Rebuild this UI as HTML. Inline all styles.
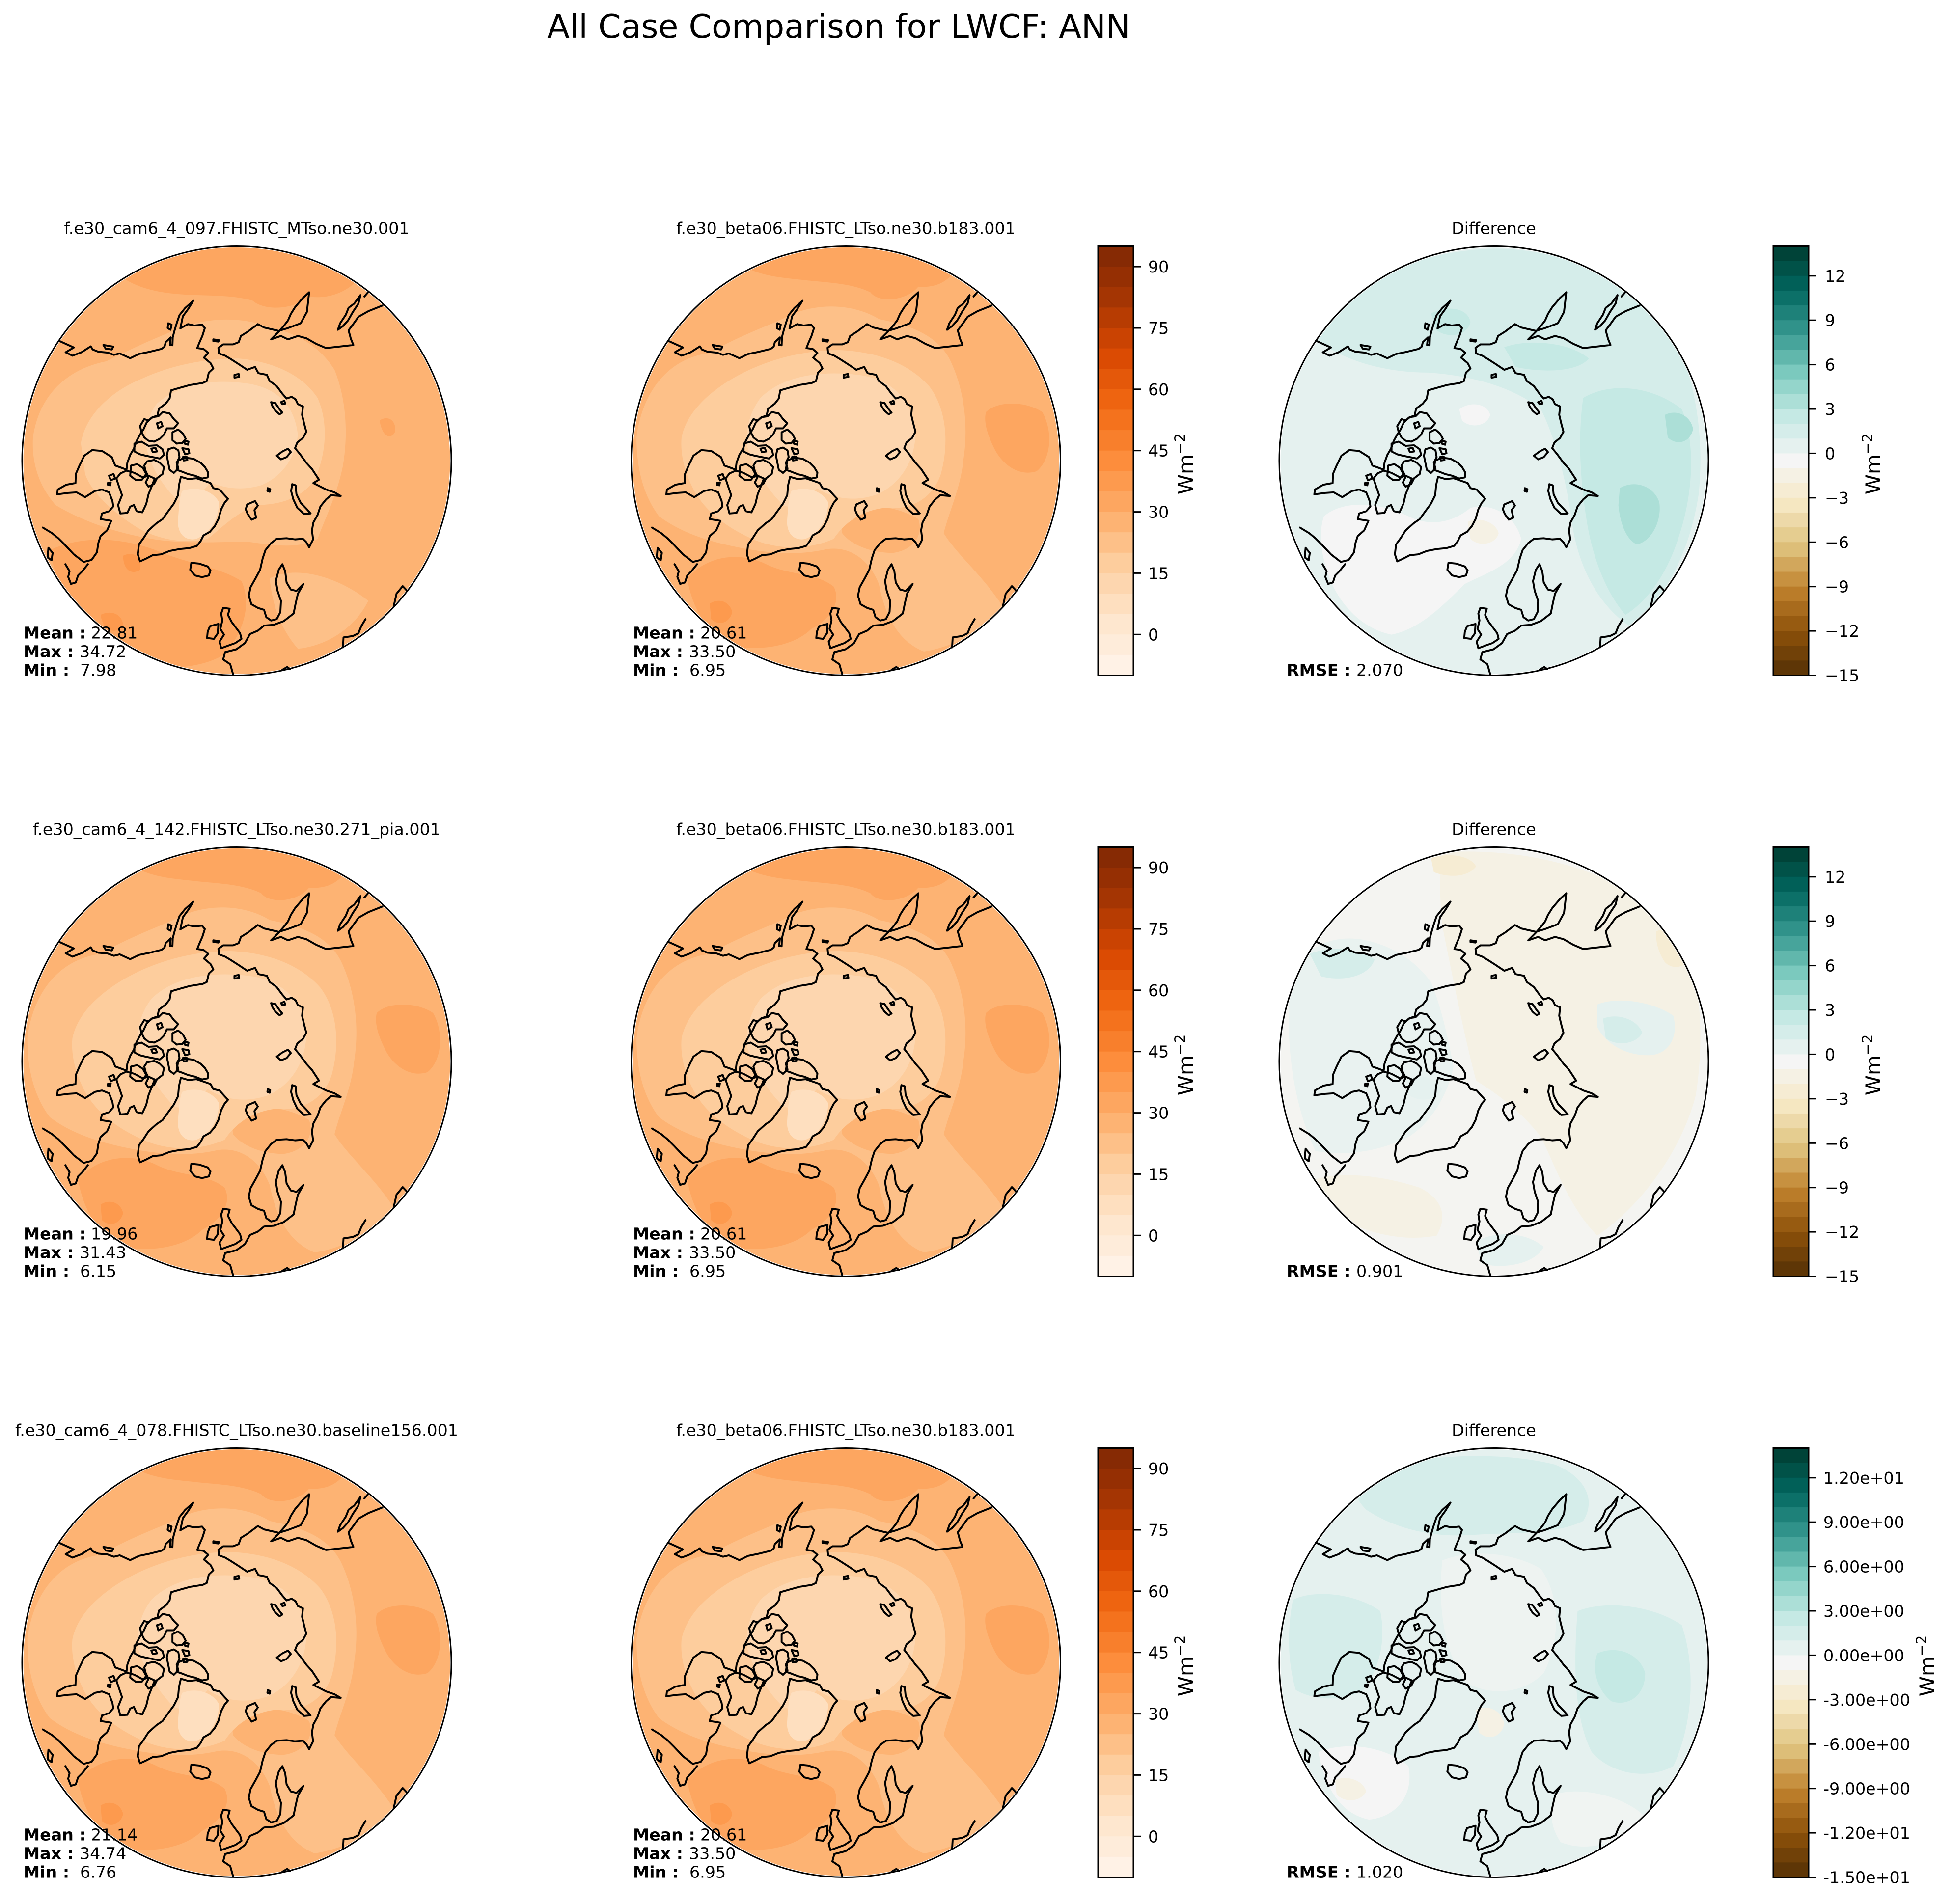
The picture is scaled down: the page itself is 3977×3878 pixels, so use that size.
<!DOCTYPE html>
<html>
<head>
<meta charset="utf-8">
<style>
html,body{margin:0;padding:0;background:#fff;}
svg{display:block;}
text{font-family:"DejaVu Sans","Liberation Sans",sans-serif;fill:#000;}
</style>
</head>
<body>
<svg xmlns="http://www.w3.org/2000/svg" width="3977" height="3878" viewBox="0 0 3977 3878">
<rect x="0" y="0" width="3977" height="3878" fill="#ffffff"/>
<defs>
  <clipPath id="cc" clipPathUnits="userSpaceOnUse"><circle cx="783" cy="783" r="757"/></clipPath>

  <g id="coast" fill="none" stroke="#000" stroke-width="6.8" stroke-linejoin="round" stroke-linecap="round">
    <path d="M152,357 L205,381 L176,398 L200,410 L232,398 L265,377 L272,388 L292,396 L325,399 L347,407 L368,402 L405,419 L436,404 L475,396 L516,386 L527,378 L531,362 L549,345 L546,372 L555,373 L556,345 L562,322 L571,292 L580,266 L600,241 L629,215 L611,244 L592,270 L583,313 L610,298 L633,303 L660,300 L670,312 L661,340 L650,365 L643,383 L665,386 L682,400 L667,417 L690,436 L700,455 L684,470 L677,500 L662,507 L617,514 L581,524 L550,533 L545,562 L531,580 L507,598 L502,622 L481,630 L463,648 L452,672 L440,690 L428,712 L418,740 L405,762 L395,790 L392,815 L380,810 L352,800 L340,770 L305,748 L270,745 L242,765 L225,800 L212,830 L211,862 L178,868 L148,885 L146,902 L185,897 L215,895 L245,912 L280,890 L305,885 L330,895 L342,925 L345,945 L330,962 L305,970 L300,990 L338,996 L323,1030 L300,1050 L292,1075 L287,1108 L268,1135 L240,1142 L205,1115 L172,1080 L150,1058 L128,1040 L95,1020"/>
    <path d="M310,372 L345,378 L340,388 L318,385 Z"/>
    <path d="M540,295 L552,300 L548,318 L538,312 Z"/>
    <path d="M700,352 L720,355 L718,360 L700,358 Z"/>
    <path d="M775,478 L790,475 L792,485 L775,488 Z"/>
    <path d="M905,575 L920,578 L935,600 L945,612 L935,618 L920,605 L910,590 Z"/>
    <path d="M940,575 L952,570 L955,580 L945,582 Z"/>
    <path d="M925,765 L945,750 L965,740 L975,752 L960,770 L940,778 Z"/>
    <path d="M1142,318 L1150,295 L1170,265 L1180,240 L1200,225 L1222,195 L1215,225 L1195,255 L1178,285 L1160,305 Z"/>
    <path d="M1248,186 L1236,200"/>
    <path d="M1300,232 L1250,252 L1215,272 L1195,300 L1180,320 L1188,350 L1197,372 L1145,378 L1100,383 L1065,368 L1030,348 L1000,340 L965,352 L940,340 L905,352 L932,325 L952,302 L965,285 L975,262 L990,238 L1018,205 L1040,185 L1032,255 L1010,295 L965,312 L932,322 L880,310 L858,298 L822,325 L798,340 L790,362 L770,370 L735,370 L718,382 L720,402 L742,410 L762,422 L790,440 L820,460 L848,450 L860,472 L890,478 L900,500 L925,518 L945,545 L960,562 L978,556 L992,565 L1000,582 L1018,590 L1015,620 L1022,650 L1030,680 L1018,702 L998,718 L990,738 L1008,760 L1030,790 L1050,812 L1065,835 L1075,850 L1055,862 L1075,872 L1100,885 L1130,895 L1152,908 L1118,905 L1100,920 L1080,945 L1070,975 L1055,1002 L1050,1030 L1054,1062 L1040,1090 L1030,1072 L1018,1060 L990,1062 L960,1058 L925,1060 L905,1075 L885,1100 L875,1130 L866,1170 L850,1200 L832,1232 L826,1262 L835,1292 L858,1305 L880,1312 L888,1338 L905,1350 L925,1345 L938,1320 L940,1280 L928,1245 L922,1210 L932,1170 L945,1150 L955,1175 L960,1215 L975,1240 L995,1245 L1020,1220 L1000,1255 L992,1290 L985,1325 L950,1352 L915,1365 L880,1368 L858,1386 L830,1398 L812,1430 L782,1452 L742,1462 L735,1488 L760,1505 L770,1540"/>
    <path d="M455,635 L470,640 L485,628 L505,625 L520,610 L545,615 L560,635 L575,650 L560,668 L535,668 L525,690 L510,705 L490,715 L470,712 L455,700 L445,680 L440,660 Z"/>
    <path d="M500,650 L515,645 L520,660 L505,668 Z"/>
    <path d="M555,682 L575,672 L592,686 L602,705 L590,720 L570,722 L555,710 Z"/>
    <path d="M598,712 L612,715 L610,726 L598,722 Z"/>
    <path d="M420,722 L445,715 L470,730 L500,728 L520,742 L525,762 L510,775 L485,770 L460,765 L440,760 L420,750 Z"/>
    <path d="M480,740 L495,737 L500,750 L485,752 Z"/>
    <path d="M540,742 L560,736 L576,746 L580,770 L570,790 L576,810 L560,826 L545,815 L540,790 L535,765 Z"/>
    <path d="M590,738 L612,742 L615,756 L600,760 Z"/>
    <path d="M592,770 L605,768 L608,780 L595,782 Z"/>
    <path d="M465,785 L490,780 L510,790 L525,805 L520,830 L500,845 L490,865 L470,875 L460,860 L470,840 L460,820 L455,800 Z"/>
    <path d="M575,782 L600,772 L630,776 L655,790 L670,805 L682,825 L680,842 L660,846 L635,836 L610,830 L590,822 L570,815 Z"/>
    <path d="M408,800 L430,795 L450,808 L462,830 L447,850 L426,852 L405,836 Z"/>
    <path d="M392,818 L420,826 L450,842 L470,836 L492,846 L482,872 L470,902 L462,936 L448,966 L428,962 L418,940 L405,946 L395,968 L370,970 L362,940 L376,905 L366,876 L356,846 L370,828 Z"/>
    <path d="M330,836 L346,830 L352,846 L336,852 Z"/>
    <path d="M326,862 L336,860 L334,870 L326,868 Z"/>
    <path d="M585,840 L612,848 L640,845 L670,855 L690,862 L700,880 L722,885 L740,905 L752,918 L740,932 L728,955 L718,990 L705,1015 L688,1035 L665,1048 L655,1068 L642,1085 L615,1093 L582,1096 L545,1103 L515,1115 L485,1118 L462,1130 L440,1140 L432,1115 L436,1080 L452,1058 L470,1030 L498,1005 L520,990 L540,962 L560,935 L575,905 L578,870 Z"/>
    <path d="M622,1145 L650,1148 L680,1158 L690,1172 L684,1190 L660,1196 L635,1190 L618,1170 Z"/>
    <path d="M820,938 L848,926 L858,942 L846,958 L852,985 L836,992 L822,972 L815,955 Z"/>
    <path d="M893,880 L902,884 L900,893 L892,890 Z"/>
    <path d="M980,866 L992,870 L995,902 L1010,932 L1032,955 L1045,970 L1022,972 L998,950 L984,920 L976,890 Z"/>
    <path d="M735,1305 L758,1308 L752,1330 L765,1355 L780,1375 L795,1395 L800,1415 L778,1430 L750,1440 L728,1448 L722,1425 L738,1400 L725,1380 L732,1350 L728,1325 Z"/>
    <path d="M688,1370 L718,1362 L716,1395 L702,1415 L678,1412 L680,1390 Z"/>
    <path d="M115,1092 L130,1110 L126,1136 L112,1126 Z"/>
    <path d="M175,1150 L190,1175 L185,1195 L195,1220 L212,1215 L220,1190 L235,1175 L255,1150"/>
    <path d="M1340,1300 L1350,1255 L1372,1228 L1388,1245"/>
    <path d="M1160,1445 L1162,1410 L1195,1405 L1215,1395 L1225,1370 L1240,1345"/>
    <path d="M945,1525 L962,1515 L972,1522"/>
  </g>

  <g id="fB">
    <circle cx="783" cy="783" r="770" fill="#fdb373"/>
    <path fill="#fda660" d="M380,60 C600,0 1000,10 1180,90 C1150,150 1100,170 1040,165 C1000,215 900,225 870,185 C800,150 700,150 620,140 C520,130 440,120 380,60 Z"/>
    <path fill="#fda660" d="M1280,610 C1320,570 1420,570 1480,610 C1520,680 1510,780 1460,820 C1400,840 1340,800 1310,740 C1290,700 1270,650 1280,610 Z"/>
    <path fill="#fda660" d="M220,1200 C300,1110 420,1110 500,1150 C580,1190 680,1180 740,1230 C770,1290 720,1350 660,1380 C600,1440 480,1460 380,1440 C300,1400 240,1320 220,1200 Z"/>
    <path fill="#fd9a4e" d="M300,1290 C330,1270 370,1280 380,1320 C370,1360 330,1370 305,1345 Z"/>
    <path fill="#fdc088" d="M40,700 C60,540 150,420 300,400 C400,340 520,300 600,260 C700,220 820,230 900,280 C1000,300 1100,330 1150,420 C1200,520 1220,650 1200,780 C1190,880 1150,960 1130,1040 C1180,1120 1260,1180 1340,1300 C1280,1380 1180,1440 1060,1460 C960,1420 920,1320 900,1220 C860,1120 780,1080 700,1100 C600,1120 500,1110 400,1090 C300,1070 200,1040 120,980 C60,900 40,800 40,700 Z"/>
    <path fill="#fdb373" d="M760,960 C840,930 960,940 1040,990 C1060,1050 1020,1100 950,1110 C870,1110 800,1080 770,1040 Z"/>
    <path fill="#fdcd9d" d="M200,700 C220,600 320,520 420,470 C520,420 640,390 760,390 C880,395 1000,430 1080,520 C1140,600 1150,720 1120,830 C1090,920 1010,960 920,950 C840,960 780,1000 740,1060 C650,1100 540,1100 450,1060 C360,1020 280,960 240,880 C210,820 195,760 200,700 Z"/>
    <path fill="#fdd6af" d="M480,560 C560,480 700,460 840,480 C960,500 1020,580 1030,680 C1030,780 980,860 900,900 C820,930 740,920 680,880 C640,930 600,960 560,940 C500,880 450,800 430,720 C430,650 450,600 480,560 Z"/>
    <path fill="#fedfbf" d="M590,890 C640,870 700,890 720,930 C720,990 690,1040 640,1060 C600,1070 570,1040 575,990 C578,950 580,910 590,890 Z"/>
  </g>

  <g id="fA">
    <circle cx="783" cy="783" r="770" fill="#fdb373"/>
    <path fill="#fda660" d="M330,90 C550,0 1000,0 1230,120 C1180,190 1100,210 1040,200 C980,250 880,250 840,215 C760,190 650,200 560,190 C460,180 380,150 330,90 Z"/>
    <path fill="#fda660" d="M120,1100 C250,1040 400,1060 520,1110 C620,1150 720,1160 800,1210 C840,1300 800,1400 740,1470 C640,1530 480,1530 360,1480 C250,1420 160,1300 120,1100 Z"/>
    <path fill="#fda660" d="M1290,640 C1320,620 1350,640 1345,680 C1330,710 1300,700 1290,640 Z"/>
    <path fill="#fd9a4e" d="M380,1120 C420,1100 450,1130 440,1170 C410,1190 380,1170 380,1120 Z"/>
    <path fill="#fd9a4e" d="M300,1330 C340,1310 380,1330 380,1370 C350,1400 310,1390 300,1330 Z"/>
    <path fill="#fdc088" d="M60,700 C80,560 170,460 320,430 C420,380 530,330 620,300 C720,270 830,280 900,310 C1000,330 1080,380 1130,460 C1170,560 1180,680 1160,800 C1140,900 1100,980 1070,1060 C1000,1100 900,1080 820,1070 C720,1070 600,1080 480,1060 C360,1040 240,1000 140,940 C80,870 55,790 60,700 Z"/>
    <path fill="#fdc088" d="M900,1200 C1000,1150 1150,1200 1250,1280 C1200,1380 1100,1440 1000,1450 C940,1380 910,1300 900,1200 Z"/>
    <path fill="#fdcd9d" d="M230,720 C250,610 350,530 450,490 C560,440 680,420 790,420 C900,430 1010,470 1070,560 C1110,650 1100,760 1060,850 C1010,920 930,940 850,940 C780,970 730,1020 680,1060 C590,1080 500,1060 430,1020 C350,970 270,900 245,830 Z"/>
    <path fill="#fdd6af" d="M500,580 C580,510 700,490 830,510 C940,530 990,600 1000,690 C990,780 940,840 870,870 C800,890 740,880 690,860 C650,910 600,940 570,920 C510,860 470,790 460,720 C460,660 475,610 500,580 Z"/>
    <path fill="#fedfbf" d="M590,890 C640,870 700,890 720,930 C720,990 690,1040 640,1060 C600,1070 570,1040 575,990 C578,950 580,910 590,890 Z"/>
  </g>

  <g id="d1">
    <circle cx="783" cy="783" r="770" fill="#e5f1ef"/>
    <path fill="#d5edea" d="M150,350 C250,150 500,40 780,30 C1050,30 1300,150 1420,330 C1500,500 1530,700 1510,900 C1480,1100 1400,1250 1280,1380 C1150,1300 1080,1150 1060,1000 C1040,850 1000,700 950,600 C850,520 700,480 550,470 C400,470 250,430 150,350 Z"/>
    <path fill="#c5e9e4" d="M1100,560 C1200,500 1350,520 1450,600 C1500,720 1490,900 1440,1050 C1400,1180 1330,1280 1250,1330 C1180,1250 1130,1120 1110,980 C1090,850 1080,700 1100,560 Z"/>
    <path fill="#acdfd7" d="M1230,880 C1280,850 1350,870 1370,930 C1380,1000 1340,1070 1290,1080 C1250,1060 1230,1000 1225,940 Z"/>
    <path fill="#acdfd7" d="M1390,620 C1430,600 1480,620 1490,670 C1480,720 1430,730 1400,700 Z"/>
    <path fill="#c5e9e4" d="M560,260 C620,230 690,240 700,290 C690,340 620,350 580,320 Z"/>
    <path fill="#c5e9e4" d="M820,380 C900,350 1050,360 1120,420 C1080,470 950,470 860,450 Z"/>
    <path fill="#f5f5f5" d="M180,980 C250,920 380,930 480,980 C560,1020 640,1000 700,950 C780,930 860,980 880,1060 C860,1150 760,1180 680,1220 C600,1300 520,1380 420,1400 C320,1380 240,1300 200,1200 C170,1120 160,1040 180,980 Z"/>
    <path fill="#f5f1e4" d="M690,1000 C730,980 790,1000 800,1040 C790,1080 730,1090 700,1060 Z"/>
    <path fill="#f5f5f5" d="M660,600 C700,570 760,580 770,620 C760,660 700,670 670,640 Z"/>
  </g>
  <g id="d2">
    <circle cx="783" cy="783" r="770" fill="#f4f4f1"/>
    <path fill="#f5f1e4" d="M600,40 C900,20 1250,100 1450,330 C1520,500 1530,700 1500,900 C1450,1100 1300,1300 1150,1400 C1050,1300 1000,1150 950,1050 C880,960 800,900 720,850 C680,700 640,500 600,300 C590,200 590,100 600,40 Z"/>
    <path fill="#f6ecd3" d="M1360,320 C1400,300 1460,330 1480,400 C1470,450 1420,460 1390,430 C1370,400 1355,360 1360,320 Z"/>
    <path fill="#f6ecd3" d="M560,60 C620,40 700,50 720,90 C690,130 620,130 570,110 Z"/>
    <path fill="#e9f2f0" d="M60,500 C100,380 200,330 320,350 C420,370 500,420 560,500 C600,600 620,700 640,800 C620,900 560,1000 480,1050 C380,1100 260,1120 150,1100 C80,950 40,750 60,500 Z"/>
    <path fill="#d5edea" d="M130,400 C200,370 300,380 360,420 C340,480 250,500 170,480 Z"/>
    <path fill="#e5f1ef" d="M1150,580 C1220,550 1350,570 1420,620 C1440,700 1400,760 1330,760 C1250,760 1180,720 1150,660 Z"/>
    <path fill="#d5edea" d="M1170,630 C1220,610 1290,630 1310,680 C1290,720 1220,730 1180,700 Z"/>
    <path fill="#f5f1e4" d="M150,1200 C250,1170 400,1190 520,1230 C600,1270 620,1330 580,1400 C480,1420 360,1400 260,1350 C200,1310 160,1260 150,1200 Z"/>
    <path fill="#e5f1ef" d="M720,1420 C800,1380 900,1390 960,1440 C930,1500 820,1520 740,1500 Z"/>
    <path fill="#e5f1ef" d="M470,850 C520,820 580,840 600,880 C580,920 520,930 480,900 Z"/>
  </g>
  <g id="d3">
    <circle cx="783" cy="783" r="770" fill="#e5f1ef"/>
    <path fill="#d5edea" d="M300,120 C500,40 800,30 1000,80 C1100,120 1150,200 1100,280 C1000,330 850,320 700,330 C550,340 420,300 330,240 C290,200 280,160 300,120 Z"/>
    <path fill="#d5edea" d="M1080,600 C1180,560 1350,580 1450,650 C1500,800 1490,1000 1420,1150 C1330,1200 1200,1180 1130,1100 C1080,1000 1060,850 1080,600 Z"/>
    <path fill="#c5e9e4" d="M1150,750 C1220,720 1300,750 1320,820 C1320,900 1260,940 1200,920 C1150,880 1130,810 1150,750 Z"/>
    <path fill="#d5edea" d="M70,560 C150,520 300,540 380,600 C400,700 380,800 320,880 C250,920 150,920 80,880 C50,780 50,660 70,560 Z"/>
    <path fill="#eef3f1" d="M600,420 C700,380 850,390 950,450 C1020,550 1020,700 960,820 C880,900 760,900 680,850 C620,760 580,620 600,420 Z"/>
    <path fill="#f5f5f5" d="M160,1100 C260,1060 400,1080 480,1150 C500,1250 440,1330 340,1340 C250,1320 190,1250 160,1100 Z"/>
    <path fill="#f5f1e4" d="M720,950 C760,930 810,950 820,1000 C810,1050 760,1060 730,1030 Z"/>
    <path fill="#f5f1e4" d="M220,1200 C260,1180 320,1200 330,1240 C310,1280 250,1280 225,1250 Z"/>
    <path fill="#f0f4f2" d="M1000,1250 C1100,1220 1250,1260 1320,1330 C1250,1420 1120,1460 1020,1420 C980,1360 980,1300 1000,1250 Z"/>
  </g>

  <g id="cbO">
    <rect x="0" y="0" width="72" height="42.2" fill="#862a04"/>
    <rect x="0" y="41.62" width="72" height="42.2" fill="#952f03"/>
    <rect x="0" y="83.24" width="72" height="42.2" fill="#a43503"/>
    <rect x="0" y="124.86" width="72" height="42.2" fill="#b73c02"/>
    <rect x="0" y="166.48" width="72" height="42.2" fill="#ca4302"/>
    <rect x="0" y="208.10" width="72" height="42.2" fill="#db4b03"/>
    <rect x="0" y="249.71" width="72" height="42.2" fill="#e4580a"/>
    <rect x="0" y="291.33" width="72" height="42.2" fill="#ee6410"/>
    <rect x="0" y="332.95" width="72" height="42.2" fill="#f4721d"/>
    <rect x="0" y="374.57" width="72" height="42.2" fill="#f87f2c"/>
    <rect x="0" y="416.19" width="72" height="42.2" fill="#fd8d3c"/>
    <rect x="0" y="457.81" width="72" height="42.2" fill="#fd9a4e"/>
    <rect x="0" y="499.43" width="72" height="42.2" fill="#fda660"/>
    <rect x="0" y="541.05" width="72" height="42.2" fill="#fdb373"/>
    <rect x="0" y="582.67" width="72" height="42.2" fill="#fdc088"/>
    <rect x="0" y="624.29" width="72" height="42.2" fill="#fdcd9d"/>
    <rect x="0" y="665.90" width="72" height="42.2" fill="#fdd6af"/>
    <rect x="0" y="707.52" width="72" height="42.2" fill="#fedfbf"/>
    <rect x="0" y="749.14" width="72" height="42.2" fill="#fee7cf"/>
    <rect x="0" y="790.76" width="72" height="42.2" fill="#feecda"/>
    <rect x="0" y="832.38" width="72" height="41.62" fill="#fff2e6"/>
    <rect x="0" y="0" width="72" height="874" fill="none" stroke="#000" stroke-width="3"/>
  </g>
  <g id="cbD">
    <rect x="0" y="0" width="72" height="30.6" fill="#004338"/>
    <rect x="0" y="30.14" width="72" height="30.6" fill="#015248"/>
    <rect x="0" y="60.28" width="72" height="30.6" fill="#016058"/>
    <rect x="0" y="90.41" width="72" height="30.6" fill="#0c7068"/>
    <rect x="0" y="120.55" width="72" height="30.6" fill="#1e8179"/>
    <rect x="0" y="150.69" width="72" height="30.6" fill="#30928a"/>
    <rect x="0" y="180.83" width="72" height="30.6" fill="#47a49b"/>
    <rect x="0" y="210.97" width="72" height="30.6" fill="#61b7ac"/>
    <rect x="0" y="241.10" width="72" height="30.6" fill="#7bc9be"/>
    <rect x="0" y="271.24" width="72" height="30.6" fill="#94d5cb"/>
    <rect x="0" y="301.38" width="72" height="30.6" fill="#acdfd7"/>
    <rect x="0" y="331.52" width="72" height="30.6" fill="#c5e9e4"/>
    <rect x="0" y="361.66" width="72" height="30.6" fill="#d5edea"/>
    <rect x="0" y="391.79" width="72" height="30.6" fill="#e5f1ef"/>
    <rect x="0" y="421.93" width="72" height="30.6" fill="#f5f5f5"/>
    <rect x="0" y="452.07" width="72" height="30.6" fill="#f5f1e4"/>
    <rect x="0" y="482.21" width="72" height="30.6" fill="#f6ecd3"/>
    <rect x="0" y="512.34" width="72" height="30.6" fill="#f5e7c1"/>
    <rect x="0" y="542.48" width="72" height="30.6" fill="#edd9a9"/>
    <rect x="0" y="572.62" width="72" height="30.6" fill="#e5cd90"/>
    <rect x="0" y="602.76" width="72" height="30.6" fill="#ddbe78"/>
    <rect x="0" y="632.90" width="72" height="30.6" fill="#d2a75c"/>
    <rect x="0" y="663.03" width="72" height="30.6" fill="#c79140"/>
    <rect x="0" y="693.17" width="72" height="30.6" fill="#ba7c29"/>
    <rect x="0" y="723.31" width="72" height="30.6" fill="#a86b1d"/>
    <rect x="0" y="753.45" width="72" height="30.6" fill="#975b11"/>
    <rect x="0" y="783.59" width="72" height="30.6" fill="#844c09"/>
    <rect x="0" y="813.72" width="72" height="30.6" fill="#714108"/>
    <rect x="0" y="843.86" width="72" height="30.14" fill="#5e3606"/>
    <rect x="0" y="0" width="72" height="874" fill="none" stroke="#000" stroke-width="3"/>
  </g>
  <g id="ticksO" stroke="#000" stroke-width="3">
    <line x1="72" y1="41.6" x2="88" y2="41.6"/>
    <line x1="72" y1="166.5" x2="88" y2="166.5"/>
    <line x1="72" y1="291.3" x2="88" y2="291.3"/>
    <line x1="72" y1="416.2" x2="88" y2="416.2"/>
    <line x1="72" y1="541.1" x2="88" y2="541.1"/>
    <line x1="72" y1="665.9" x2="88" y2="665.9"/>
    <line x1="72" y1="790.8" x2="88" y2="790.8"/>
  </g>
  <g id="ticksD" stroke="#000" stroke-width="3">
    <line x1="72" y1="60.3" x2="88" y2="60.3"/>
    <line x1="72" y1="150.7" x2="88" y2="150.7"/>
    <line x1="72" y1="241.1" x2="88" y2="241.1"/>
    <line x1="72" y1="331.5" x2="88" y2="331.5"/>
    <line x1="72" y1="421.9" x2="88" y2="421.9"/>
    <line x1="72" y1="512.3" x2="88" y2="512.3"/>
    <line x1="72" y1="602.8" x2="88" y2="602.8"/>
    <line x1="72" y1="693.2" x2="88" y2="693.2"/>
    <line x1="72" y1="783.6" x2="88" y2="783.6"/>
    <line x1="72" y1="874" x2="88" y2="874"/>
  </g>
</defs>

<text x="1708" y="77" font-size="66.7" text-anchor="middle">All Case Comparison for LWCF: ANN</text>

<g transform="translate(32.64,489.14) scale(0.5739)">
  <g clip-path="url(#cc)"><use href="#fA"/></g>
  <use href="#coast"/>
  <circle cx="783" cy="783" r="761.5" fill="none" stroke="#000" stroke-width="5.2"/>
</g>
<g transform="translate(1273.14,489.14) scale(0.5739)">
  <g clip-path="url(#cc)"><use href="#fB"/></g>
  <use href="#coast"/>
  <circle cx="783" cy="783" r="761.5" fill="none" stroke="#000" stroke-width="5.2"/>
</g>
<g transform="translate(2592.64,489.14) scale(0.5739)">
  <g clip-path="url(#cc)"><use href="#d1"/></g>
  <use href="#coast"/>
  <circle cx="783" cy="783" r="761.5" fill="none" stroke="#000" stroke-width="5.2"/>
</g>
<g transform="translate(32.64,1713.14) scale(0.5739)">
  <g clip-path="url(#cc)"><use href="#fB"/></g>
  <use href="#coast"/>
  <circle cx="783" cy="783" r="761.5" fill="none" stroke="#000" stroke-width="5.2"/>
</g>
<g transform="translate(1273.14,1713.14) scale(0.5739)">
  <g clip-path="url(#cc)"><use href="#fB"/></g>
  <use href="#coast"/>
  <circle cx="783" cy="783" r="761.5" fill="none" stroke="#000" stroke-width="5.2"/>
</g>
<g transform="translate(2592.64,1713.14) scale(0.5739)">
  <g clip-path="url(#cc)"><use href="#d2"/></g>
  <use href="#coast"/>
  <circle cx="783" cy="783" r="761.5" fill="none" stroke="#000" stroke-width="5.2"/>
</g>
<g transform="translate(32.64,2937.14) scale(0.5739)">
  <g clip-path="url(#cc)"><use href="#fB"/></g>
  <use href="#coast"/>
  <circle cx="783" cy="783" r="761.5" fill="none" stroke="#000" stroke-width="5.2"/>
</g>
<g transform="translate(1273.14,2937.14) scale(0.5739)">
  <g clip-path="url(#cc)"><use href="#fB"/></g>
  <use href="#coast"/>
  <circle cx="783" cy="783" r="761.5" fill="none" stroke="#000" stroke-width="5.2"/>
</g>
<g transform="translate(2592.64,2937.14) scale(0.5739)">
  <g clip-path="url(#cc)"><use href="#d3"/></g>
  <use href="#coast"/>
  <circle cx="783" cy="783" r="761.5" fill="none" stroke="#000" stroke-width="5.2"/>
</g>

<g font-size="33.3" text-anchor="middle">
  <text x="482" y="476.5">f.e30_cam6_4_097.FHISTC_MTso.ne30.001</text>
  <text x="1722.5" y="476.5">f.e30_beta06.FHISTC_LTso.ne30.b183.001</text>
  <text x="3042" y="476.5">Difference</text>
  <text x="482" y="1700.5">f.e30_cam6_4_142.FHISTC_LTso.ne30.271_pia.001</text>
  <text x="1722.5" y="1700.5">f.e30_beta06.FHISTC_LTso.ne30.b183.001</text>
  <text x="3042" y="1700.5">Difference</text>
  <text x="482" y="2924.5">f.e30_cam6_4_078.FHISTC_LTso.ne30.baseline156.001</text>
  <text x="1722.5" y="2924.5">f.e30_beta06.FHISTC_LTso.ne30.b183.001</text>
  <text x="3042" y="2924.5">Difference</text>
</g>

<g font-size="33.3">
  <text x="48" y="1300.5" font-weight="bold">Mean :</text><text x="185" y="1300.5">22.81</text>
  <text x="48" y="1338.5" font-weight="bold">Max :</text><text x="162" y="1338.5">34.72</text>
  <text x="48" y="1376.5" font-weight="bold">Min :</text><text x="163" y="1376.5">7.98</text>
  <text x="1289" y="1300.5" font-weight="bold">Mean :</text><text x="1426" y="1300.5">20.61</text>
  <text x="1289" y="1338.5" font-weight="bold">Max :</text><text x="1403" y="1338.5">33.50</text>
  <text x="1289" y="1376.5" font-weight="bold">Min :</text><text x="1404" y="1376.5">6.95</text>
  <text x="2620" y="1376.5" font-weight="bold">RMSE :</text><text x="2762" y="1376.5">2.070</text>
  <text x="48" y="2524.5" font-weight="bold">Mean :</text><text x="185" y="2524.5">19.96</text>
  <text x="48" y="2562.5" font-weight="bold">Max :</text><text x="162" y="2562.5">31.43</text>
  <text x="48" y="2600.5" font-weight="bold">Min :</text><text x="163" y="2600.5">6.15</text>
  <text x="1289" y="2524.5" font-weight="bold">Mean :</text><text x="1426" y="2524.5">20.61</text>
  <text x="1289" y="2562.5" font-weight="bold">Max :</text><text x="1403" y="2562.5">33.50</text>
  <text x="1289" y="2600.5" font-weight="bold">Min :</text><text x="1404" y="2600.5">6.95</text>
  <text x="2620" y="2600.5" font-weight="bold">RMSE :</text><text x="2762" y="2600.5">0.901</text>
  <text x="48" y="3748.5" font-weight="bold">Mean :</text><text x="185" y="3748.5">21.14</text>
  <text x="48" y="3786.5" font-weight="bold">Max :</text><text x="162" y="3786.5">34.74</text>
  <text x="48" y="3824.5" font-weight="bold">Min :</text><text x="163" y="3824.5">6.76</text>
  <text x="1289" y="3748.5" font-weight="bold">Mean :</text><text x="1426" y="3748.5">20.61</text>
  <text x="1289" y="3786.5" font-weight="bold">Max :</text><text x="1403" y="3786.5">33.50</text>
  <text x="1289" y="3824.5" font-weight="bold">Min :</text><text x="1404" y="3824.5">6.95</text>
  <text x="2620" y="3824.5" font-weight="bold">RMSE :</text><text x="2762" y="3824.5">1.020</text>
</g>

<use href="#cbO" transform="translate(2236,501.5)"/>
<use href="#ticksO" transform="translate(2236,501.5)"/>
<use href="#cbD" transform="translate(3611,501.5)"/>
<use href="#ticksD" transform="translate(3611,501.5)"/>
<use href="#cbO" transform="translate(2236,1725.5)"/>
<use href="#ticksO" transform="translate(2236,1725.5)"/>
<use href="#cbD" transform="translate(3611,1725.5)"/>
<use href="#ticksD" transform="translate(3611,1725.5)"/>
<use href="#cbO" transform="translate(2236,2949.5)"/>
<use href="#ticksO" transform="translate(2236,2949.5)"/>
<use href="#cbD" transform="translate(3611,2949.5)"/>
<use href="#ticksD" transform="translate(3611,2949.5)"/>

<g font-size="33.3">
  <text x="2338" y="555.1">90</text>
  <text x="2338" y="680.0">75</text>
  <text x="2338" y="804.8">60</text>
  <text x="2338" y="929.7">45</text>
  <text x="2338" y="1054.6">30</text>
  <text x="2338" y="1179.4">15</text>
  <text x="2338" y="1304.3">0</text>
  <text x="2338" y="1779.1">90</text>
  <text x="2338" y="1904.0">75</text>
  <text x="2338" y="2028.8">60</text>
  <text x="2338" y="2153.7">45</text>
  <text x="2338" y="2278.6">30</text>
  <text x="2338" y="2403.4">15</text>
  <text x="2338" y="2528.3">0</text>
  <text x="2338" y="3003.1">90</text>
  <text x="2338" y="3128.0">75</text>
  <text x="2338" y="3252.8">60</text>
  <text x="2338" y="3377.7">45</text>
  <text x="2338" y="3502.6">30</text>
  <text x="2338" y="3627.4">15</text>
  <text x="2338" y="3752.3">0</text>
</g>

<g font-size="33.3">
  <text x="3716" y="573.8">12</text>
  <text x="3716" y="664.2">9</text>
  <text x="3716" y="754.6">6</text>
  <text x="3716" y="845.0">3</text>
  <text x="3716" y="935.4">0</text>
  <text x="3716" y="1025.8">−3</text>
  <text x="3716" y="1116.3">−6</text>
  <text x="3716" y="1206.7">−9</text>
  <text x="3716" y="1297.1">−12</text>
  <text x="3716" y="1387.5">−15</text>
  <text x="3716" y="1797.8">12</text>
  <text x="3716" y="1888.2">9</text>
  <text x="3716" y="1978.6">6</text>
  <text x="3716" y="2069.0">3</text>
  <text x="3716" y="2159.4">0</text>
  <text x="3716" y="2249.8">−3</text>
  <text x="3716" y="2340.3">−6</text>
  <text x="3716" y="2430.7">−9</text>
  <text x="3716" y="2521.1">−12</text>
  <text x="3716" y="2611.5">−15</text>
</g>

<g font-size="33.3">
  <text x="3713" y="3021.8">1.20e+01</text>
  <text x="3713" y="3112.2">9.00e+00</text>
  <text x="3713" y="3202.6">6.00e+00</text>
  <text x="3713" y="3293.0">3.00e+00</text>
  <text x="3713" y="3383.4">0.00e+00</text>
  <text x="3713" y="3473.8">-3.00e+00</text>
  <text x="3713" y="3564.3">-6.00e+00</text>
  <text x="3713" y="3654.7">-9.00e+00</text>
  <text x="3713" y="3745.1">-1.20e+01</text>
  <text x="3713" y="3835.5">-1.50e+01</text>
</g>

<g font-size="41.7" text-anchor="middle">
  <text transform="translate(2429,945) rotate(-90)">Wm<tspan dy="-16" font-size="29">−2</tspan></text>
  <text transform="translate(2429,2169) rotate(-90)">Wm<tspan dy="-16" font-size="29">−2</tspan></text>
  <text transform="translate(2429,3393) rotate(-90)">Wm<tspan dy="-16" font-size="29">−2</tspan></text>
  <text transform="translate(3829,945) rotate(-90)">Wm<tspan dy="-16" font-size="29">−2</tspan></text>
  <text transform="translate(3829,2169) rotate(-90)">Wm<tspan dy="-16" font-size="29">−2</tspan></text>
  <text transform="translate(3939,3393) rotate(-90)">Wm<tspan dy="-16" font-size="29">−2</tspan></text>
</g>
</svg>
</body>
</html>
